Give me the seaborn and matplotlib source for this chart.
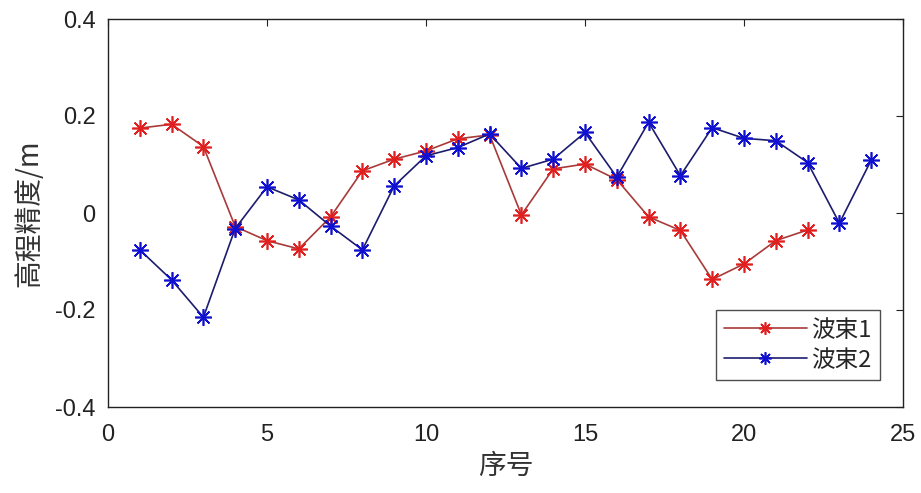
import matplotlib
matplotlib.use("Agg")
import matplotlib.pyplot as plt
import seaborn as sns
import pandas as pd

x1 = list(range(1, 23))
beam1 = [0.175, 0.183, 0.137, -0.028, -0.057, -0.074, -0.008, 0.087, 0.111, 0.128,
         0.153, 0.161, -0.004, 0.091, 0.101, 0.069, -0.008, -0.036, -0.137, -0.105,
         -0.057, -0.035]
x2 = list(range(1, 25))
beam2 = [-0.076, -0.138, -0.215, -0.032, 0.054, 0.027, -0.027, -0.076, 0.056, 0.118,
         0.135, 0.163, 0.092, 0.111, 0.166, 0.074, 0.187, 0.077, 0.176, 0.154,
         0.149, 0.104, -0.021, 0.109]
labels = ["波束1", "波束2"]
xticks = [0, 5, 10, 15, 20, 25]
yticks = [-0.4, -0.2, 0, 0.2, 0.4]
ytick_labels = ["-0.4", "-0.2", "0", "0.2", "0.4"]

sns.set_theme(style="white")
plt.rcParams['font.family'] = ['Liberation Sans', 'Noto Sans CJK SC', 'DejaVu Sans']

df = pd.concat([
    pd.DataFrame({"x": x1, "y": beam1, "beam": labels[0]}),
    pd.DataFrame({"x": x2, "y": beam2, "beam": labels[1]}),
])

fig = plt.figure(figsize=(9.21, 4.93), dpi=100)
ax = fig.add_axes([108/921, 1 - 407/493, (903 - 108)/921, (407 - 19)/493])

line_colors = ["#a83a3a", "#1c1c6e"]
marker_colors = ["#e02020", "#1010d0"]
for lab, lc, mc in zip(labels, line_colors, marker_colors):
    sub = df[df["beam"] == lab]
    sns.lineplot(data=sub, x="x", y="y", ax=ax, color=lc, lw=1.2,
                 marker=(8, 2, 0), markersize=12, markeredgecolor=mc,
                 markerfacecolor=mc, markeredgewidth=1.2, label=lab)

ax.set_xlim(0, 25)
ax.set_ylim(-0.4, 0.4)
ax.set_xticks(xticks)
ax.set_yticks(yticks)
ax.set_yticklabels(ytick_labels)
ax.tick_params(direction="in", top=True, right=True, length=5, width=0.8,
               labelsize=17, colors="#222222")
ax.tick_params(axis="x", pad=12)
ax.tick_params(axis="y", pad=9)
for s in ax.spines.values():
    s.set_color("#222222")
    s.set_linewidth(1.0)
ax.set_xlabel("序号", fontsize=20, family=['Noto Sans CJK SC'], color="#333333", labelpad=4)
ax.set_ylabel("高程精度/m", fontsize=20, family=['Noto Sans CJK SC', 'Liberation Sans'],
              color="#333333", labelpad=8)

leg = ax.legend(loc="lower right", bbox_to_anchor=((880 - 108) / 795, (407 - 380) / 388),
                borderaxespad=0, frameon=True, fancybox=False, edgecolor="#222222",
                handlelength=3.5, borderpad=0.35, labelspacing=0.3, handletextpad=0.2,
                prop={'family': ['Noto Sans CJK SC', 'Liberation Sans'], 'size': 17})
leg.get_frame().set_linewidth(1.0)
for h in leg.legend_handles:
    h.set_markersize(9)

fig.savefig("out.png", dpi=100)
